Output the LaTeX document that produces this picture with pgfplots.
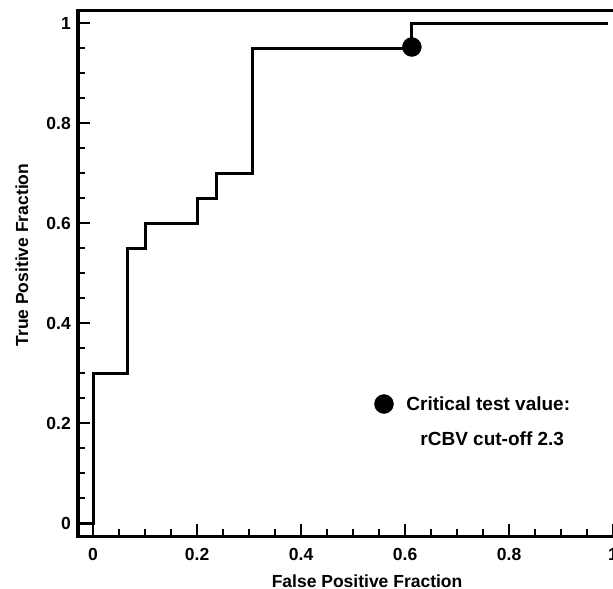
\documentclass[border=0pt]{standalone}
\usepackage{fontspec}
\setmainfont{Liberation Sans}
\usepackage{pgfplots}
\pgfplotsset{compat=1.18}

\newcommand{\chartfont}{\fontsize{17.5bp}{20bp}\selectfont\bfseries}
\newcommand{\keyfont}{\fontsize{19bp}{20bp}\selectfont\bfseries}

\begin{document}
\begin{tikzpicture}
\begin{axis}[
  at={(78bp,-536bp)}, anchor=south west,
  scale only axis,
  width=540.3bp, height=526bp,
  xmin=-0.029, xmax=1.01,
  ymin=-0.026, ymax=1.026,
  xtick={0,0.2,0.4,0.6,0.8,1},
  ytick={0,0.2,0.4,0.6,0.8,1},
  minor tick num=3,
  tick align=inside,
  xtick pos=bottom, ytick pos=left,
  major tick length=12bp, minor tick length=7bp,
  every tick/.style={black, line width=2bp},
  axis line style={line width=3bp},
  ticklabel style={font=\chartfont},
  /pgf/number format/assume math mode=true,
  xticklabel style={anchor=base, yshift=-24bp},
  yticklabel style={anchor=east, inner sep=0pt, xshift=-7bp},
  xlabel={False Positive Fraction},
  ylabel={True Positive Fraction},
  every axis x label/.style={at={(rel axis cs:0.535,0)}, anchor=base, yshift=-51bp, font=\chartfont},
  every axis y label/.style={at={(rel axis cs:-0.0925,0.534)}, rotate=90, anchor=base, font=\chartfont},
  legend style={draw=none, fill=none, at={(axis cs:0.535,0.203)}, anchor=west,
    font=\keyfont, column sep=11bp, nodes={align=left}},
  legend image post style={yshift=17.5bp},
]

\addplot[const plot, black, line width=3bp, forget plot]
coordinates {
(-0.029,0)(0,0.3)(0.067,0.55)(0.1,0.6)(0.2,0.65)(0.237,0.7)(0.306,0.95)(0.612,1.0)(0.99,1.0)
};

\addplot[only marks, mark=*, mark size=9.5bp, black]
coordinates {
(0.613,0.952)
};
\addlegendentry{Critical test value:\\[15bp]\hspace*{14bp}rCBV cut-off 2.3}

\end{axis}
\pgfresetboundingbox
\path (0,0) rectangle (613bp,-589bp);
\end{tikzpicture}
\end{document}
